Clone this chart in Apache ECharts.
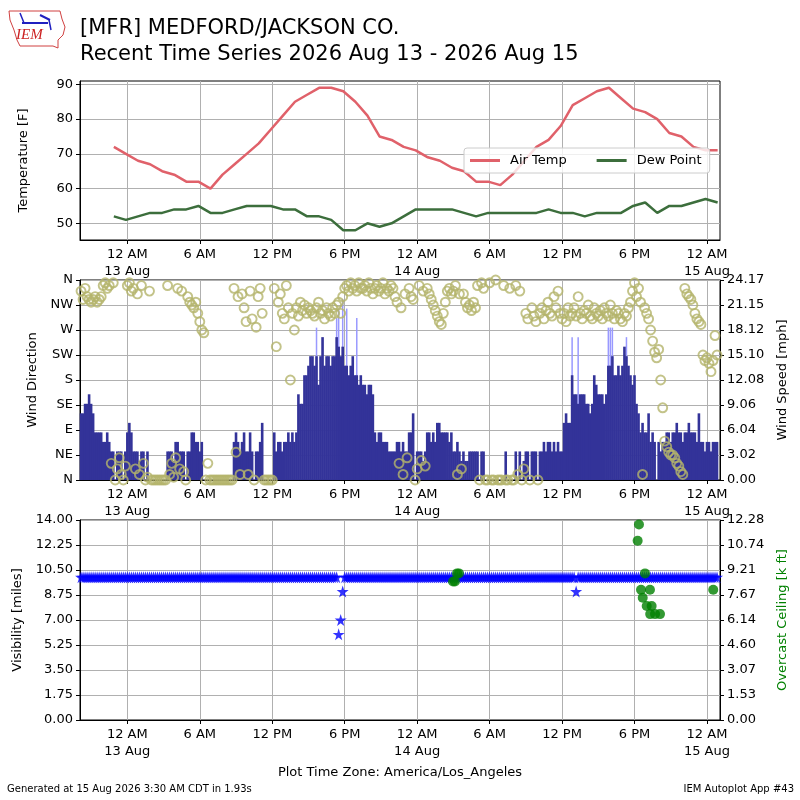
<!DOCTYPE html>
<html>
<head>
<meta charset="utf-8">
<script src="https://cdn.jsdelivr.net/npm/echarts@6/dist/echarts.min.js"></script>
<style>
html, body { margin: 0; padding: 0; background: #fff; }
#chart { width: 800px; height: 800px; }
</style>
</head>
<body>
<div id="chart"></div>
<script>
// hours are counted from 12 AM 13 Aug (America/Los_Angeles)
var xMin = -3.92, xMax = 49.08;
var xTicks = [0, 6, 12, 18, 24, 30, 36, 42, 48];
var tempTicks = [50, 60, 70, 80, 90];
var dirLabels = ['N', 'NE', 'E', 'SE', 'S', 'SW', 'W', 'NW', 'N'];

// hourly obs, first one at 22:53 on 12 Aug
var obsStart = -1 - 7 / 60;
var airTemp = [72,70,68,67,65,64,62,62,60,64, 67,70,73,77,81,85,87,89,89,88,
  85,81,75,74,72,71,69,68,66,65, 62,62,61,64,68,72,74,78,84,86,
  88,89,86,83,82,80,76,75,72,71, 71];
var dewPoint = [52,51,52,53,53,54,54,55,53,53, 54,55,55,55,54,54,52,52,51,48,
  48,50,49,50,52,54,54,54,54,53, 52,53,53,53,53,53,54,53,53,52,
  53,53,53,55,56,53,55,55,56,57, 56];

// 10 minute wind obs, first one at 20:10 on 12 Aug
var windStart = -3.833;
var windStep = 1 / 6;
var KT_TO_MPH = 1.15078;
var windKt = [
  7,7,8,8, 9,8, 7, 5,5,5,5, 4,4,5,4,
  3,3,0,3,3,3,0,3, 5,6,5, 3,3,3,2,3,3,0,3,
  0,0,0,0,0,0,0,0,0, 3,3,3,2, 4,4,3, 3,3,0,3,3,
  5,5,4, 4,3,4,0, 0,0,0,0,0,0,0,0,0,0,0,0,0,0,
  4,5,4,3,4, 5, 3,3, 5, 3,0,3,3, 4, 6, 0,0,0,0,0,
  5,3, 4,4,3,4,4, 5,4, 5,4,5, 9,8, 8, 11,11,12,
  13,13,12,13,10,13, 15, 12,13, 13,12,13,13, 15, 14,13,14,
  12,12,11,12, 13, 11,11,10,11, 10,10,9,10,10,9, 5,
  4,5,5,4,4,4, 3,3,3,3, 4,4,3,4,3,3, 5,5, 7, 0,
  3,3,3,2,3, 5,5, 4,5,4, 6,6, 5,5,5,5,4,5,
  3,3,4,3, 2,3,2,2,3, 3,3,3, 3,0,3,3,0,
  0,0,0,0,0,0,0,0,0,3,0,0,0,0, 3, 0,3,0,2,
  3,3,0,3,3,3,0,3,3, 4,3,4,4,3,4, 3,4,3,3,
  6,7,6,6, 11, 9,9,8,9,9,9, 8,8,7,8, 11,10,
  9,9,9,8,9, 12,12,13, 11, 11,12,11,12, 14,13,12, 11,10,11, 8,7,
  5,6,5,5, 7, 4,5,4,0, 4,3,4,4, 5,5,4,
  5,5,6,5,5,4,5,5,6,5,5,5,4, 7, 4,4,3,4,4,3,4,4,4
];
var windDir = [
  340,325,345,330, 325,320, 325, 330,320,325,330, 350,355,345,350,
  30,355,0,20,40,10,0,25, 350,355,340, 345,20,335,10,350,30,0,5,
  340,0,0,0,0,0,0,0,0, 350,10,30,5, 40,345,20, 340,15,0,330,320,
  315,310,320, 300,285,270,265, 0,30,0,0,0,0,0,0,0,0,0,0,0,0,
  345,50,330,10,335, 310, 285,10, 340, 290,0,275,330, 345, 300, 0,0,0,0,0,
  345,240, 320,335,300,290,350, 310,180, 300,270,310, 295,320, 305, 315,300,310,
  305,300,295,310,320,300, 305, 290,310, 300,295,310,300, 315, 320,300,330,
  345,350,340,355, 345, 350,340,355,345, 345,350,340,355,345,335, 345,
  350,340,345,355,335,345, 340,350,345,330, 320,30,310,10,335,40, 345,330, 325, 0,
  20,350,35,340,25, 345,335, 325,315,305, 295,285, 280,300,320,340,345,335,
  340,350,10,335, 20,335,320,310,315, 305,320,310, 350,0,355,345,0,
  0,355,0,0,360,0,0,0,350,0,0,345,0,0, 350, 10,340,0,20,
  300,290,0,310,295,285,0,300,310, 290,305,320,300,295,330, 310,340,300,290,
  300,285,310,295, 300, 310,295,330,300,290,305, 300,315,295,290, 310,300,
  295,305,290,310,300, 295,315,300, 290, 305,300,290,285, 300,295,310, 320,340,355, 330,345,
  320,10,310,300, 290, 270,250,230,220, 235,180,130,70, 60,50,45,
  45,40,30,25,15,10,345,335,330,325,315,300,290, 285, 280,225,215,220,210,195,215,260,225
];
var gustIdx = [117, 127, 128, 130, 132, 137, 244, 247, 262, 263, 264, 271];
var gustKt = [16, 17, 18, 19, 18, 17, 15, 15, 16, 16, 16, 15];

var visMiles = [
  10,10,10,10,10,10,10,10,10,10,10,10,10,10,10,10,10,10,10,10,
  10,10,10,10,10,10,10,10,10,10,10,10,10,10,10,10,10,10,10,10,
  10,10,10,10,10,10,10,10,10,10,10,10,10,10,10,10,10,10,10,10,
  10,10,10,10,10,10,10,10,10,10,10,10,10,10,10,10,10,10,10,10,
  10,10,10,10,10,10,10,10,10,10,10,10,10,10,10,10,10,10,10,10,
  10,10,10,10,10,10,10,10,10,10,10,10,10,10,10,10,10,10,10,10,
  10,10,10,10,10,10,10,10,6,7,9,10,10,10,10,10,10,10,10,10,
  10,10,10,10,10,10,10,10,10,10,10,10,10,10,10,10,10,10,10,10,
  10,10,10,10,10,10,10,10,10,10,10,10,10,10,10,10,10,10,10,10,
  10,10,10,10,10,10,10,10,10,10,10,10,10,10,10,10,10,10,10,10,
  10,10,10,10,10,10,10,10,10,10,10,10,10,10,10,10,10,10,10,10,
  10,10,10,10,10,10,10,10,10,10,10,10,10,10,10,10,10,10,10,10,
  10,10,10,10,10,10,9,10,10,10,10,10,10,10,10,10,10,10,10,10,
  10,10,10,10,10,10,10,10,10,10,10,10,10,10,10,10,10,10,10,10,
  10,10,10,10,10,10,10,10,10,10,10,10,10,10,10,10,10,10,10,10,
  10,10,10,10,10,10,10,10,10,10,10,10,10,10,10,10,10
];
var ceilHours = [26.97, 27.13, 27.30, 27.46, 42.26, 42.37, 42.54, 42.68, 42.87, 43.01,
  43.28, 43.30, 43.42, 43.70, 44.11, 48.52];
var ceilKft = [8.5, 8.5, 9.0, 9.0, 11.0, 12.0, 8.0, 7.5, 9.0, 7.0,
  8.0, 6.5, 7.0, 6.5, 6.5, 8.0];

var FONT = 'DejaVu Sans';
var spdMax = 21 * KT_TO_MPH;
var ceilMax = 12.2785;
var spdTicks = [0, 1, 2, 3, 4, 5, 6, 7, 8].map(function (k) { return k * spdMax / 8; });
var ceilTicks = [0, 1, 2, 3, 4, 5, 6, 7, 8].map(function (k) { return k * ceilMax / 8; });

function fmtHour(v) {
  var h = Math.round(v);
  var hod = ((h % 24) + 24) % 24;
  if (hod === 0) return '12 AM\n' + (13 + Math.floor(h / 24)) + ' Aug';
  return hod === 6 ? '6 AM' : hod === 12 ? '12 PM' : '6 PM';
}
function two(v) { return v.toFixed(2); }

var tickText = { color: '#000', fontFamily: FONT, fontSize: 13 };
var gridLine = { show: true, lineStyle: { color: '#b0b0b0', width: 1 } };
var blackLine = { show: true, onZero: false, lineStyle: { color: '#000', width: 1 } };
var outTick = { show: true, length: 4, lineStyle: { color: '#000' } };

function xAxisFor(g) {
  return {
    type: 'value', gridIndex: g, min: xMin, max: xMax,
    axisLine: blackLine,
    axisTick: Object.assign({ customValues: xTicks }, outTick),
    axisLabel: Object.assign({ customValues: xTicks, formatter: fmtHour, lineHeight: 17, margin: 6 }, tickText),
    splitLine: gridLine
  };
}
function yName(txt, gap, color) {
  return {
    name: txt, nameLocation: 'middle', nameRotate: 90, nameGap: gap,
    nameTextStyle: { color: color || '#000', fontFamily: FONT, fontSize: 13 }
  };
}

var tempData = airTemp.map(function (v, k) { return [obsStart + k, v]; });
var dewData = dewPoint.map(function (v, k) { return [obsStart + k, v]; });
var spdData = windKt.map(function (v, i) { return [windStart + i * windStep, v * KT_TO_MPH]; });
var dirData = windDir.map(function (v, i) { return [windStart + i * windStep, v]; });
var gustData = gustIdx.map(function (i, k) { return [windStart + i * windStep, gustKt[k] * KT_TO_MPH]; });
var visData = visMiles.map(function (v, i) { return [windStart + i * windStep, v]; });
var ceilData = ceilHours.map(function (h, k) { return [h, ceilKft[k]]; });

var starPath = 'path://M50,0 L61,35 L98,35 L68,57 L79,91 L50,70 L21,91 L32,57 L2,35 L39,35 Z';

var myChart = echarts.init(document.getElementById('chart'));

var option = {
  animation: false,
  backgroundColor: '#fff',
  grid: [
    { left: 80, width: 640, top: 81, height: 159, show: true, borderColor: '#000', borderWidth: 1 },
    { left: 80, width: 640, top: 280, height: 200, show: true, borderColor: '#000', borderWidth: 1 },
    { left: 80, width: 640, top: 520, height: 200, show: true, borderColor: '#000', borderWidth: 1 }
  ],
  xAxis: [
    xAxisFor(0), xAxisFor(1), xAxisFor(2),
    { type: 'value', gridIndex: 1, min: xMin, max: xMax, show: false }
  ],
  yAxis: [
    Object.assign({
      type: 'value', gridIndex: 0, min: 45.2, max: 90.96,
      axisLine: blackLine,
      axisTick: Object.assign({ customValues: tempTicks }, outTick),
      axisLabel: Object.assign({ customValues: tempTicks, margin: 7 }, tickText),
      splitLine: gridLine
    }, yName('Temperature [F]', 50)),
    Object.assign({
      type: 'value', gridIndex: 1, min: 0, max: 360, interval: 45,
      axisLine: blackLine, axisTick: outTick,
      axisLabel: Object.assign({ margin: 7, formatter: function (v) { return dirLabels[Math.round(v / 45)]; } }, tickText),
      splitLine: gridLine
    }, yName('Wind Direction', 40)),
    Object.assign({
      type: 'value', gridIndex: 1, position: 'right', min: 0, max: spdMax,
      axisLine: blackLine,
      axisTick: Object.assign({ customValues: spdTicks }, outTick),
      axisLabel: Object.assign({ customValues: spdTicks, margin: 7, formatter: two }, tickText),
      splitLine: { show: false }
    }, yName('Wind Speed [mph]', 56)),
    Object.assign({
      type: 'value', gridIndex: 2, min: 0, max: 14, interval: 1.75,
      axisLine: blackLine, axisTick: outTick,
      axisLabel: Object.assign({ margin: 7, formatter: two }, tickText),
      splitLine: gridLine
    }, yName('Visibility [miles]', 56)),
    Object.assign({
      type: 'value', gridIndex: 2, position: 'right', min: 0, max: ceilMax,
      axisLine: blackLine,
      axisTick: Object.assign({ customValues: ceilTicks }, outTick),
      axisLabel: Object.assign({ customValues: ceilTicks, margin: 7, formatter: two }, tickText),
      splitLine: { show: false }
    }, yName('Overcast Ceiling [k ft]', 56, '#008000'))
  ],
  legend: {
    data: ['Air Temp', 'Dew Point'],
    left: 464, top: 148,
    icon: 'rect', itemWidth: 30, itemHeight: 3, itemGap: 30,
    padding: [6, 8, 6, 6],
    backgroundColor: 'rgba(255,255,255,0.8)', borderColor: '#cccccc', borderWidth: 1, borderRadius: 3,
    textStyle: { color: '#000', fontFamily: FONT, fontSize: 13, padding: [0, 0, 0, 5] }
  },
  series: [
    { name: 'Air Temp', type: 'line', xAxisIndex: 0, yAxisIndex: 0, data: tempData,
      showSymbol: false, symbol: 'none', color: '#e0616a', lineStyle: { width: 2.5, color: '#e0616a' } },
    { name: 'Dew Point', type: 'line', xAxisIndex: 0, yAxisIndex: 0, data: dewData,
      showSymbol: false, symbol: 'none', color: '#3c6e3c', lineStyle: { width: 2.5, color: '#3c6e3c' } },
    { name: 'Gust', type: 'bar', xAxisIndex: 3, yAxisIndex: 2, data: gustData,
      barWidth: 1.5, itemStyle: { color: '#9999ff' } },
    { name: 'Speed', type: 'bar', xAxisIndex: 1, yAxisIndex: 2, data: spdData,
      barWidth: 2.6, itemStyle: { color: '#333399' } },
    { name: 'Direction', type: 'scatter', xAxisIndex: 1, yAxisIndex: 1, data: dirData,
      symbol: 'circle', symbolSize: 9,
      itemStyle: { color: 'rgba(0,0,0,0)', borderColor: '#b4b46c', borderWidth: 1.9 } },
    { name: 'Visibility', type: 'scatter', xAxisIndex: 2, yAxisIndex: 3, data: visData,
      symbol: starPath, symbolSize: 12, itemStyle: { color: '#0000ff' } },
    { name: 'Ceiling', type: 'scatter', xAxisIndex: 2, yAxisIndex: 4, data: ceilData,
      symbol: 'circle', symbolSize: 10, itemStyle: { color: '#008000' } }
  ],
  graphic: [
    { type: 'polygon', shape: { points: [[9, 11], [60, 11], [62, 19], [65, 27], [63, 35], [58, 40], [58, 48], [53, 46], [20, 46], [17, 40], [14, 30], [10, 20]] },
      style: { fill: 'none', stroke: '#d04040', lineWidth: 1 } },
    { type: 'line', shape: { x1: 22, y1: 23, x2: 48, y2: 23 }, style: { stroke: '#2020c0', lineWidth: 2 } },
    { type: 'line', shape: { x1: 20, y1: 13, x2: 24, y2: 23 }, style: { stroke: '#2020c0', lineWidth: 1.5 } },
    { type: 'line', shape: { x1: 40, y1: 15, x2: 50, y2: 20 }, style: { stroke: '#2020c0', lineWidth: 2 } },
    { type: 'line', shape: { x1: 49, y1: 20, x2: 51, y2: 30 }, style: { stroke: '#2020c0', lineWidth: 1.5 } },
    { type: 'text', left: 16, top: 28, style: { text: 'IEM', fill: '#cc2222', font: 'italic 15px "Liberation Serif"' } },
    { type: 'text', left: 80, top: 18, style: { text: '[MFR] MEDFORD/JACKSON CO.', fill: '#000', font: '21px "DejaVu Sans"' } },
    { type: 'text', left: 80, top: 44, style: { text: 'Recent Time Series 2026 Aug 13 - 2026 Aug 15', fill: '#000', font: '21px "DejaVu Sans"' } },
    { type: 'text', left: 'center', top: 766, style: { text: 'Plot Time Zone: America/Los_Angeles', fill: '#000', font: '13px "DejaVu Sans"' } },
    { type: 'text', left: 7, top: 784, style: { text: 'Generated at 15 Aug 2026 3:30 AM CDT in 1.93s', fill: '#000', font: '10px "DejaVu Sans"' } },
    { type: 'text', right: 6, top: 784, style: { text: 'IEM Autoplot App #43', fill: '#000', font: '10px "DejaVu Sans"' } }
  ]
};

myChart.setOption(option);
</script>
</body>
</html>
